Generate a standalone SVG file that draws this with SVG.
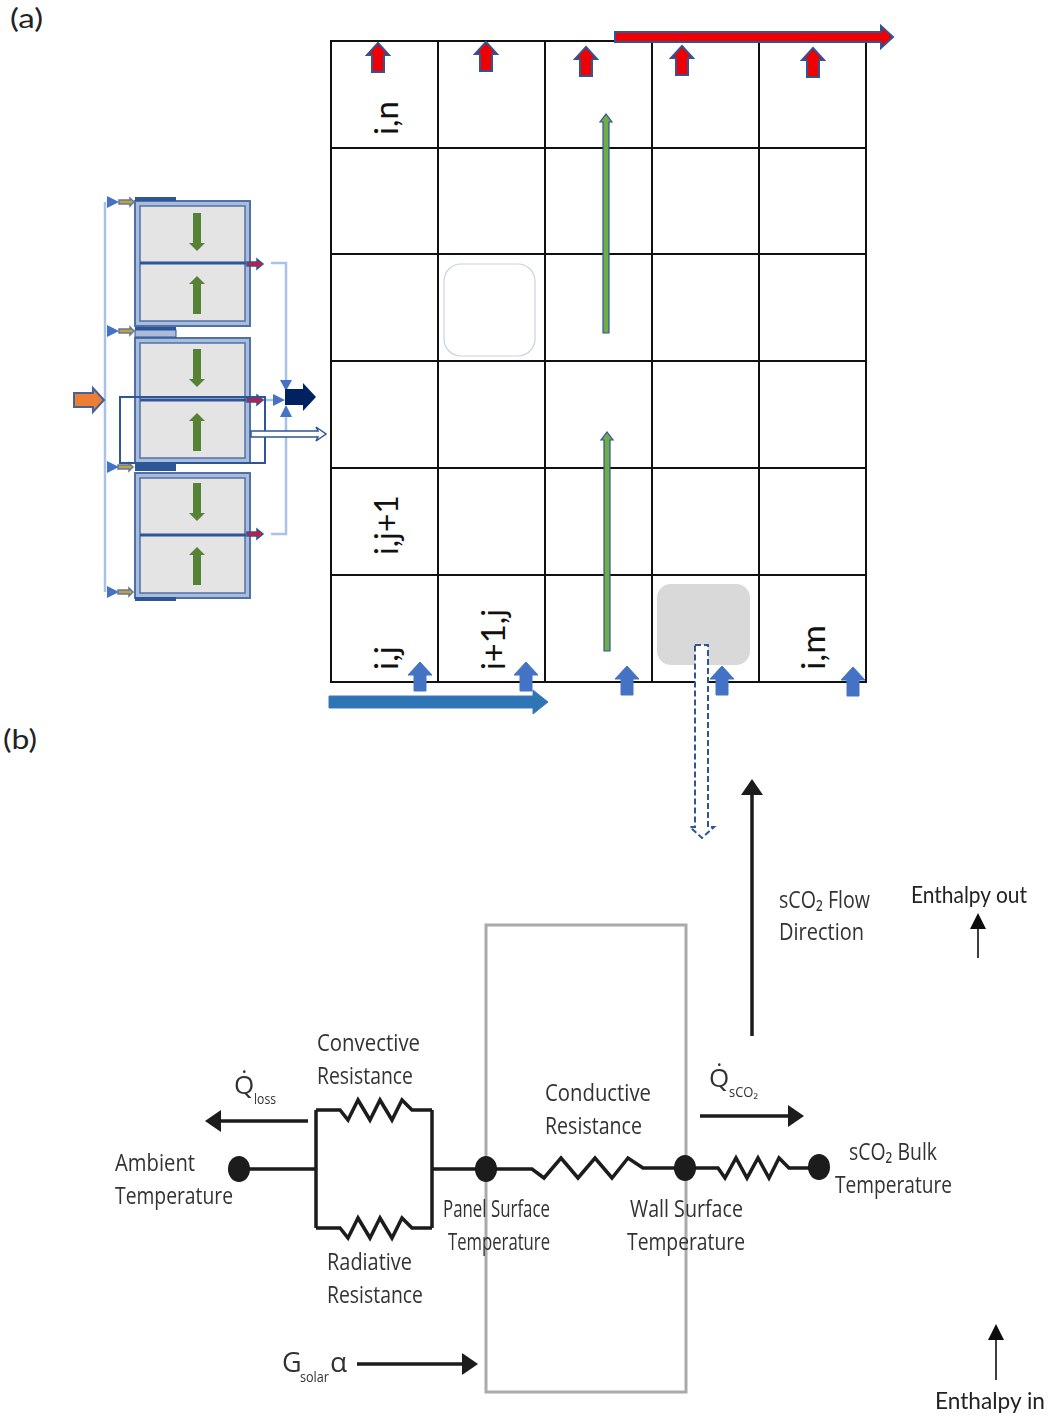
<svg xmlns="http://www.w3.org/2000/svg" xmlns:xlink="http://www.w3.org/1999/xlink" width="1050" height="1418" viewBox="0 0 1050 1418">
<style>
.grid{stroke:#111;stroke-width:2;fill:none}
.cal{font-family:Lato,"Open Sans",sans-serif;fill:#222}
.cell{font-family:Lato,"Open Sans",sans-serif;font-size:33px;fill:#111}
.lab{font-family:"Open Sans","Noto Sans",sans-serif;font-size:24px;fill:#333}
.sub{font-family:"Open Sans","Noto Sans",sans-serif;font-size:14px;fill:#333}
.wire{stroke:#1a1a1a;stroke-width:3.5;fill:none;stroke-linejoin:miter}
.arw{stroke:#1a1a1a;stroke-width:3.5;fill:none}
.thin{stroke:#111;stroke-width:1.6;fill:none}
.route{stroke:#a9c2e6;stroke-width:2.5;fill:none}
.tri{fill:#4472c4}
.yel{fill:#c9a227;stroke:#5b78a8;stroke-width:1.5}
.tiny{fill:#e8112d;stroke:#2f5597;stroke-width:1.5}
.bar{fill:#2f5597}
.pan{fill:#a9bcd9;stroke:#4f71a8;stroke-width:2}
.inner{fill:#e4e4e4;stroke:#4f71a8;stroke-width:1.5}
.mid{stroke:#2f5597;stroke-width:3}
.gr{fill:#548235}
.dot{fill:#1a1a1a}
</style>
<defs>
<filter id="soft" x="-5%" y="-5%" width="110%" height="110%"><feGaussianBlur stdDeviation="0.45"/></filter>
<polygon id="redUp" points="0,0 11,12 6,12 6,29 -6,29 -6,12 -11,12" fill="#f00000" stroke="#2f5597" stroke-width="2"/>
<polygon id="blueUp" points="0,0 12,13 6,13 6,29 -6,29 -6,13 -12,13" fill="#4472c4" stroke="#4472c4" stroke-width="1"/>
<polygon id="grDown" points="-4,0 4,0 4,30 8,30 0,38 -8,30 -4,30" class="gr"/>
<polygon id="grUp" points="0,0 8,8 4,8 4,38 -4,38 -4,8 -8,8" class="gr"/>
<g id="panel">
<rect x="0" y="0" width="115" height="125" class="pan"/>
<rect x="5" y="5" width="105" height="115" class="inner"/>
<line x1="5" y1="62" x2="111" y2="62" class="mid"/>
</g>
<polygon id="tinyArr" points="0,-2 10,-2 10,-5 16,0 10,5 10,2 0,2" class="tiny"/>
<polygon id="yelArr" points="0,-2 11,-2 11,-4 15,0 11,4 11,2 0,2" class="yel"/>
<polygon id="triR" points="0,-6 12,0 0,6" class="tri"/>
<marker id="blk" markerUnits="userSpaceOnUse" markerWidth="18" markerHeight="22" refX="2" refY="11" orient="auto"><polygon points="0,0 16,11 0,22" fill="#1a1a1a"/></marker>
<marker id="blkS" markerUnits="userSpaceOnUse" markerWidth="18" markerHeight="18" refX="1" refY="9" orient="auto"><polygon points="0,1 16,9 0,17" fill="#111"/></marker>
</defs>
<rect width="1050" height="1418" fill="#fff"/>

<text x="10" y="28" class="cal" font-size="26" textLength="33" lengthAdjust="spacingAndGlyphs">(a)</text>
<text x="3" y="749" class="cal" font-size="26" textLength="34" lengthAdjust="spacingAndGlyphs">(b)</text>

<g id="grid-table">
<rect x="331" y="41" width="535" height="641" class="grid"/>
<path class="grid" d="M438,41V682M545,41V682M652,41V682M759,41V682M331,148H866M331,254H866M331,361H866M331,468H866M331,575H866"/>
</g>
<g id="cell-shapes">
<rect x="444" y="264" width="91" height="92" rx="17" fill="#fff" stroke="#c3d3e6" stroke-width="1.2"/>
<rect x="657" y="584" width="93" height="81" rx="14" fill="#d9d9d9"/>
</g>
<g id="cell-labels">
<text class="cell" transform="translate(398,135) rotate(-90)" textLength="34" lengthAdjust="spacingAndGlyphs">i,n</text>
<text class="cell" transform="translate(398,555) rotate(-90)" textLength="60" lengthAdjust="spacingAndGlyphs">i,j+1</text>
<text class="cell" transform="translate(398,670) rotate(-90)" textLength="24" lengthAdjust="spacingAndGlyphs">i,j</text>
<text class="cell" transform="translate(505,670) rotate(-90)" textLength="61" lengthAdjust="spacingAndGlyphs">i+1,j</text>
<text class="cell" transform="translate(825,670) rotate(-90)" textLength="45" lengthAdjust="spacingAndGlyphs">i,m</text>
</g>
<g id="grid-arrows">
<use xlink:href="#redUp" href="#redUp" x="378" y="43"/>
<use xlink:href="#redUp" href="#redUp" x="486" y="42"/>
<use xlink:href="#redUp" href="#redUp" x="586" y="47"/>
<use xlink:href="#redUp" href="#redUp" x="682" y="46"/>
<use xlink:href="#redUp" href="#redUp" x="813" y="48"/>
<use xlink:href="#blueUp" href="#blueUp" x="420" y="662"/>
<use xlink:href="#blueUp" href="#blueUp" x="526" y="662"/>
<use xlink:href="#blueUp" href="#blueUp" x="627" y="666"/>
<use xlink:href="#blueUp" href="#blueUp" x="722" y="666"/>
<use xlink:href="#blueUp" href="#blueUp" x="853" y="667"/>
<polygon points="615,32 881,32 881,26 893,37 881,48 881,42 615,42" fill="#f00000" stroke="#2f5597" stroke-width="2"/>
<polygon points="329,696 533,696 533,690 548,702 533,714 533,708 329,708" fill="#2e75b6" stroke="#4472c4"/>
<polygon points="603,333 603,122 600,122 606,114 612,122 609,122 609,333" fill="#70ad47" stroke="#2f5597" stroke-width="1.200"/>
<polygon points="604,651 604,440 601,440 607,432 613,440 610,440 610,651" fill="#70ad47" stroke="#2f5597" stroke-width="1.200"/>
<polygon points="695,645 708,645 708,827 714,827 702,838 690,827 695,827" fill="#fff" stroke="#2f5597" stroke-width="2" stroke-dasharray="6 3"/>
</g>

<g filter="url(#soft)">
<g id="panel-1">
<use xlink:href="#panel" href="#panel" x="135" y="201"/>
<use xlink:href="#grDown" href="#grDown" x="197" y="213"/>
<use xlink:href="#grUp" href="#grUp" x="197" y="276"/>
</g>
<g id="panel-2">
<use xlink:href="#panel" href="#panel" x="135" y="338"/>
<use xlink:href="#grDown" href="#grDown" x="197" y="349"/>
<use xlink:href="#grUp" href="#grUp" x="197" y="413"/>
</g>
<g id="panel-3">
<use xlink:href="#panel" href="#panel" x="135" y="473"/>
<use xlink:href="#grDown" href="#grDown" x="197" y="483"/>
<use xlink:href="#grUp" href="#grUp" x="197" y="547"/>
</g>
<g id="headers">
<rect x="135" y="197" width="41" height="4" class="bar"/>
<rect x="135" y="327" width="41" height="3" class="bar"/>
<rect x="135" y="330" width="41" height="7" fill="#a9bcd9" stroke="#2f5597"/>
<rect x="135" y="463" width="41" height="8" class="bar"/>
<rect x="135" y="597" width="41" height="4" class="bar"/>
</g>
<g id="circuit-routing">
<path class="route" d="M105,202V385M105,342V592"/>
<path class="route" d="M271,263H286V382M271,534H286V416M263,400H275"/>
<use xlink:href="#triR" href="#triR" x="107" y="202"/>
<use xlink:href="#triR" href="#triR" x="107" y="331"/>
<use xlink:href="#triR" href="#triR" x="107" y="467"/>
<use xlink:href="#triR" href="#triR" x="107" y="592"/>
<use xlink:href="#yelArr" href="#yelArr" x="119" y="202"/>
<use xlink:href="#yelArr" href="#yelArr" x="119" y="331"/>
<use xlink:href="#yelArr" href="#yelArr" x="118" y="467"/>
<use xlink:href="#yelArr" href="#yelArr" x="118" y="592"/>
<use xlink:href="#tinyArr" href="#tinyArr" x="247" y="264"/>
<use xlink:href="#tinyArr" href="#tinyArr" x="247" y="400"/>
<use xlink:href="#tinyArr" href="#tinyArr" x="247" y="534"/>
<polygon class="tri" points="273,394 285,400 273,406"/>
<polygon class="tri" points="280,380 292,380 286,391"/>
<polygon class="tri" points="286,405 292,417 280,417"/>
<polygon points="74,393 93,393 93,388 104,400 93,412 93,407 74,407" fill="#ed7d31" stroke="#44619a" stroke-width="2"/>
<polygon points="285,389 303,389 303,383 316,397 303,411 303,405 285,405" fill="#002060"/>
<rect x="120" y="397" width="145" height="66" fill="none" stroke="#2f5597" stroke-width="2"/>
<polygon points="251,431 318,431 316,427 326,434 316,441 318,437 251,437" fill="#fff" stroke="#2f5597" stroke-width="1.500"/>
</g>
</g>

<g filter="url(#soft)">
<g id="connectors">
<line class="arw" x1="752" y1="1036" x2="752" y2="793" marker-end="url(#blk)"/>
<line class="thin" x1="978" y1="958" x2="978" y2="928" marker-end="url(#blkS)"/>
<line class="thin" x1="996" y1="1380" x2="996" y2="1339" marker-end="url(#blkS)"/>
<line class="arw" x1="308" y1="1121" x2="219" y2="1121" marker-end="url(#blk)"/>
<line class="arw" x1="700" y1="1116" x2="790" y2="1116" marker-end="url(#blk)"/>
<line class="arw" x1="357" y1="1364" x2="464" y2="1364" marker-end="url(#blk)"/>
<path class="wire" d="M239,1169H316M316,1110V1228M432,1110V1228M316,1110H340L348,1120L358,1100L370,1120L380,1100L392,1120L402,1100L412,1110H432M316,1228H340L348,1238L358,1218L370,1238L380,1218L392,1238L402,1218L412,1228H432M432,1169H532L544,1178L561,1158L578,1178L595,1158L612,1178L628,1158L643,1168H718L725,1178L736,1158L747,1178L758,1158L769,1178L779,1158L789,1168H819"/>
</g>
<g id="wall-box"><rect x="486" y="925" width="200" height="467" fill="none" stroke="#aaa" stroke-width="3"/></g>
<g id="node-ambient"><ellipse cx="239" cy="1169" rx="11" ry="13" class="dot"/>
<text class="lab" x="115" y="1171" textLength="80" lengthAdjust="spacingAndGlyphs">Ambient</text>
<text class="lab" x="115" y="1204" textLength="118" lengthAdjust="spacingAndGlyphs">Temperature</text></g>
<g id="node-panel"><ellipse cx="486" cy="1169" rx="11" ry="13" class="dot"/>
<text class="lab" x="443" y="1217" textLength="107" lengthAdjust="spacingAndGlyphs">Panel Surface</text>
<text class="lab" x="448" y="1250" textLength="102" lengthAdjust="spacingAndGlyphs">Temperature</text></g>
<g id="node-wall"><ellipse cx="685" cy="1168" rx="11" ry="13" class="dot"/>
<text class="lab" x="630" y="1217" textLength="113" lengthAdjust="spacingAndGlyphs">Wall Surface</text>
<text class="lab" x="627" y="1250" textLength="118" lengthAdjust="spacingAndGlyphs">Temperature</text></g>
<g id="node-bulk"><ellipse cx="819" cy="1167" rx="11" ry="13" class="dot"/>
<text class="lab" x="849" y="1160" textLength="88" lengthAdjust="spacingAndGlyphs">sCO₂ Bulk</text>
<text class="lab" x="835" y="1193" textLength="117" lengthAdjust="spacingAndGlyphs">Temperature</text></g>
<g id="labels">
<text class="lab" x="317" y="1051" textLength="103" lengthAdjust="spacingAndGlyphs">Convective</text>
<text class="lab" x="317" y="1084" textLength="96" lengthAdjust="spacingAndGlyphs">Resistance</text>
<text class="lab" x="327" y="1270" textLength="85" lengthAdjust="spacingAndGlyphs">Radiative</text>
<text class="lab" x="327" y="1303" textLength="96" lengthAdjust="spacingAndGlyphs">Resistance</text>
<text class="lab" x="545" y="1101" textLength="106" lengthAdjust="spacingAndGlyphs">Conductive</text>
<text class="lab" x="545" y="1134" textLength="97" lengthAdjust="spacingAndGlyphs">Resistance</text>
<text class="lab" x="779" y="908" textLength="91" lengthAdjust="spacingAndGlyphs">sCO₂ Flow</text>
<text class="lab" x="779" y="940" textLength="85" lengthAdjust="spacingAndGlyphs">Direction</text>
<text class="cal" x="911" y="903" font-size="23" textLength="116" lengthAdjust="spacingAndGlyphs">Enthalpy out</text>
<text class="cal" x="935" y="1409" font-size="23" textLength="110" lengthAdjust="spacingAndGlyphs">Enthalpy in</text>
<text class="lab" x="234" y="1094" style="font-size:26px">Q̇</text>
<text class="sub" x="254" y="1104" textLength="22" lengthAdjust="spacingAndGlyphs">loss</text>
<text class="lab" x="709" y="1087" style="font-size:26px">Q̇</text>
<text class="sub" x="729" y="1097" textLength="29" lengthAdjust="spacingAndGlyphs">sCO₂</text>
<text class="lab" x="282" y="1372" style="font-size:27px">G</text>
<text class="sub" x="300" y="1382" textLength="29" lengthAdjust="spacingAndGlyphs">solar</text>
<text class="lab" x="330" y="1372" style="font-size:28px">α</text>
</g>
</g>
</svg>
